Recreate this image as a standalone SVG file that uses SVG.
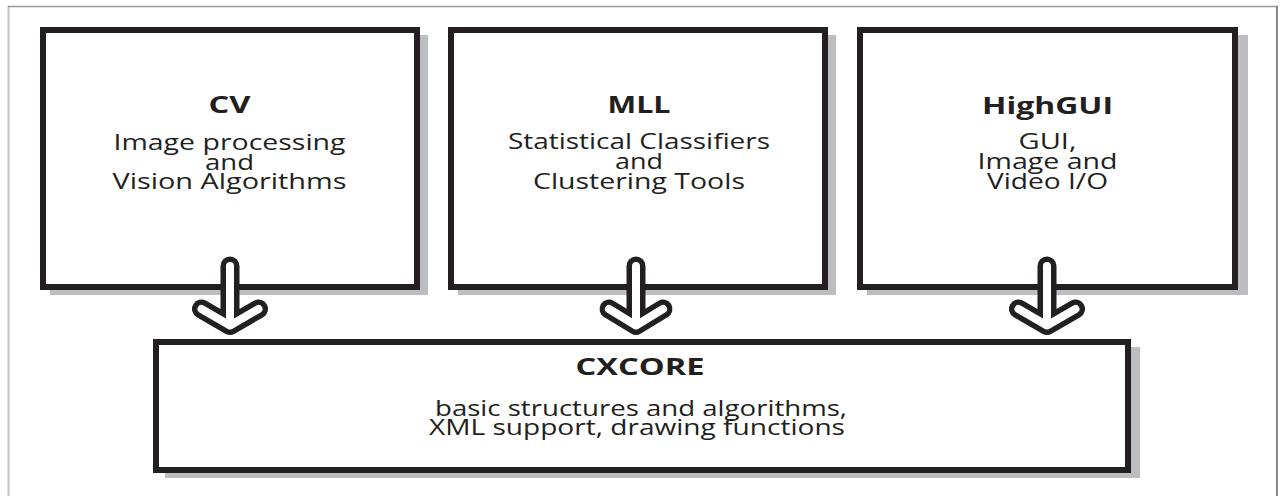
<svg xmlns="http://www.w3.org/2000/svg" width="1282" height="496" viewBox="0 0 1282 496">
<style>
.shadow{fill:#bcbdc0;stroke:none}
.box{fill:#fff;stroke:#231f20;stroke-width:6}
.title{font-family:"Open Sans","Liberation Sans",sans-serif;font-weight:bold;font-size:24px;fill:#231f20;text-anchor:middle}
.sub{font-family:"Open Sans","Liberation Sans",sans-serif;font-size:21px;fill:#231f20;text-anchor:middle}
.arrowOuter{fill:none;stroke:#231f20;stroke-width:19;stroke-linecap:round;stroke-linejoin:round}
.arrowInner{fill:none;stroke:#fff;stroke-width:8;stroke-linecap:round;stroke-linejoin:round}
</style>
<rect width="1282" height="496" fill="#fff"/>
<g id="frame">
<line x1="8.5" y1="6" x2="8.5" y2="496" stroke="#c4c4c4" stroke-width="2"/>
<line x1="8" y1="6.5" x2="1277" y2="6.5" stroke="#9a9a9a" stroke-width="1.5"/>
<line x1="1277" y1="6" x2="1277" y2="496" stroke="#666" stroke-width="1.5"/>
</g>
<g id="node-cv">
<rect class="shadow" x="50" y="35" width="378" height="260"/>
<rect class="box" x="43" y="30" width="374" height="257"/>
<text class="title" x="229.5" y="113" textLength="42" lengthAdjust="spacingAndGlyphs">CV</text>
<text class="sub"><tspan x="229.5" y="150" textLength="232" lengthAdjust="spacingAndGlyphs">Image processing</tspan><tspan x="229.5" y="169.5" textLength="49" lengthAdjust="spacingAndGlyphs">and</tspan><tspan x="229.5" y="189" textLength="234" lengthAdjust="spacingAndGlyphs">Vision Algorithms</tspan></text>
</g>
<g id="node-mll">
<rect class="shadow" x="458" y="35" width="378" height="260"/>
<rect class="box" x="451" y="30" width="374" height="257"/>
<text class="title" x="639" y="113" textLength="63" lengthAdjust="spacingAndGlyphs">MLL</text>
<text class="sub"><tspan x="639" y="149" textLength="262" lengthAdjust="spacingAndGlyphs">Statistical Classifiers</tspan><tspan x="639" y="169" textLength="48" lengthAdjust="spacingAndGlyphs">and</tspan><tspan x="639" y="189" textLength="212" lengthAdjust="spacingAndGlyphs">Clustering Tools</tspan></text>
</g>
<g id="node-highgui">
<rect class="shadow" x="867" y="35" width="381" height="260"/>
<rect class="box" x="860" y="30" width="375" height="257"/>
<text class="title" x="1047.5" y="114" textLength="131" lengthAdjust="spacingAndGlyphs">HighGUI</text>
<text class="sub"><tspan x="1047.5" y="149" textLength="58" lengthAdjust="spacingAndGlyphs">GUI,</tspan><tspan x="1047.5" y="168.5" textLength="140" lengthAdjust="spacingAndGlyphs">Image and</tspan><tspan x="1047.5" y="189" textLength="121" lengthAdjust="spacingAndGlyphs">Video I/O</tspan></text>
</g>
<g id="node-cxcore">
<rect class="shadow" x="165" y="347" width="975" height="131"/>
<rect class="box" x="156" y="342" width="972" height="128"/>
<text class="title" x="640" y="375" textLength="129" lengthAdjust="spacingAndGlyphs">CXCORE</text>
<text class="sub"><tspan x="641" y="416" textLength="412" lengthAdjust="spacingAndGlyphs">basic structures and algorithms,</tspan><tspan x="637" y="435" textLength="416" lengthAdjust="spacingAndGlyphs">XML support, drawing functions</tspan></text>
</g>
<g id="connectors">
<path class="arrowOuter" d="M230,266 V325.5 M201.5,309 L230,325.5 L258.5,309"/>
<path class="arrowOuter" d="M636,266 V325.5 M609,309 L636,325.5 L663,309"/>
<path class="arrowOuter" d="M1047,266 V325.5 M1018.5,309 L1047,325.5 L1075.5,309"/>
<path class="arrowInner" d="M230,266 V325.5 M201.5,309 L230,325.5 L258.5,309"/>
<path class="arrowInner" d="M636,266 V325.5 M609,309 L636,325.5 L663,309"/>
<path class="arrowInner" d="M1047,266 V325.5 M1018.5,309 L1047,325.5 L1075.5,309"/>
</g>
</svg>
